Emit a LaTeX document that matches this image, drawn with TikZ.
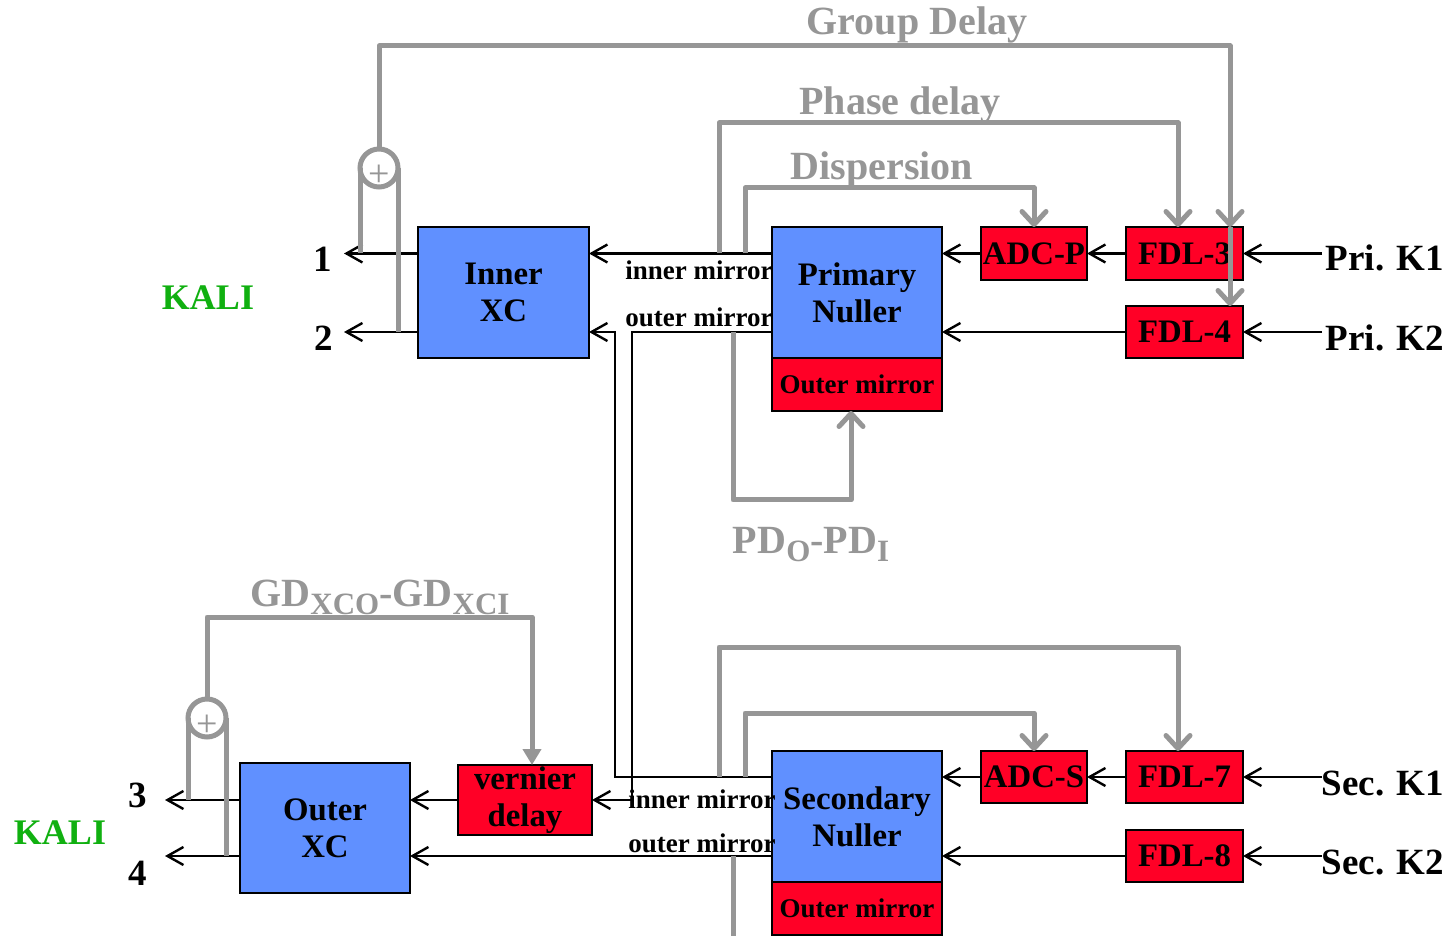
\documentclass[tikz,border=0pt]{standalone}
\usepackage{fontspec}
\setmainfont{Liberation Serif}
\usetikzlibrary{arrows.meta,calc}
\definecolor{boxblue}{RGB}{96,144,255}
\definecolor{boxred}{RGB}{255,0,38}
\definecolor{ctlgray}{RGB}{150,150,150}
\definecolor{kaligreen}{RGB}{16,176,16}
\newcommand\lsub[1]{\raisebox{-0.45ex}{\fontsize{15.5}{16}\selectfont #1}}
\begin{document}
\begin{tikzpicture}[x=0.5pt,y=-0.5pt,
  boxbase/.style={draw=black,line width=1.2pt,inner sep=0pt,outer sep=0pt,align=center,
    font=\fontsize{16.4}{18.5}\selectfont\bfseries},
  bluebox/.style={boxbase,fill=boxblue},
  redbox/.style={boxbase,fill=boxred},
  smallred/.style={boxbase,fill=boxred,font=\fontsize{13.5}{14}\selectfont\bfseries},
  barr/.style={draw=black,line width=1.2pt,-{Straight Barb[length=8pt,width=9pt]}},
  bline/.style={draw=black,line width=1.2pt},
  gline/.style={draw=ctlgray,line width=2.5pt,line join=round},
  garr/.style={gline,-{Straight Barb[length=6.5pt,width=12pt,round]}},
  gtri/.style={gline,-{Triangle[length=8pt,width=9pt]}},
  sumc/.style={circle,draw=ctlgray,line width=2.5pt,minimum size=19pt,inner sep=0pt,outer sep=0pt},
  plus/.style={text=ctlgray,font=\fontsize{19}{19}\selectfont,inner sep=0pt},
  glabel/.style={text=ctlgray,font=\fontsize{20}{22}\selectfont\bfseries,inner sep=0pt,anchor=base},
  blabel/.style={font=\fontsize{18.5}{20}\selectfont\bfseries,inner sep=0pt},
  mlabel/.style={font=\fontsize{13.5}{14}\selectfont\bfseries,inner sep=0pt,anchor=base west},
  kali/.style={text=kaligreen,font=\fontsize{18}{20}\selectfont\bfseries,inner sep=0pt}
]
\fill[white] (0,0) rectangle (1453,936);
\useasboundingbox (0,0) rectangle (1453,936);

% ---------- boxes ----------
\node[bluebox,minimum width=85.5pt,minimum height=65.5pt] (inxc) at (503.5,292.5) {Inner\\XC};
\node[bluebox,minimum width=85pt,minimum height=65.5pt] (prim) at (857,292.5) {Primary\\Nuller};
\node[smallred,minimum width=85pt,minimum height=26.5pt] (primom) at (857,384.5) {Outer mirror};
\node[redbox,minimum width=53pt,minimum height=26.5pt] (adcp) at (1034,253.5) {ADC-P};
\node[redbox,minimum width=58.5pt,minimum height=26.5pt] (fdl3) at (1184.5,253.5) {FDL-3};
\node[redbox,minimum width=58.5pt,minimum height=26pt] (fdl4) at (1184.5,332) {FDL-4};

\node[bluebox,minimum width=85pt,minimum height=65.5pt] (sec) at (857,816.5) {Secondary\\Nuller};
\node[smallred,minimum width=85pt,minimum height=26.5pt] (secom) at (857,908.5) {Outer mirror};
\node[redbox,minimum width=53pt,minimum height=26pt] (adcs) at (1034,777) {ADC-S};
\node[redbox,minimum width=58.5pt,minimum height=26pt] (fdl7) at (1184.5,777) {FDL-7};
\node[redbox,minimum width=58.5pt,minimum height=26pt] (fdl8) at (1184.5,856) {FDL-8};

\node[bluebox,minimum width=85pt,minimum height=65pt] (outxc) at (325,828) {Outer\\XC};
\node[redbox,minimum width=67pt,minimum height=35pt] (vern) at (525,800) {vernier\\delay};

% ---------- text labels ----------
\node[blabel] (pk1) at (1385,257.5) {Pri. K1};
\node[blabel] (pk2) at (1385,337.5) {Pri. K2};
\node[blabel] (sk1) at (1383,783.5) {Sec. K1};
\node[blabel] (sk2) at (1383,862.5) {Sec. K2};
\node[blabel] (n1) at (323,259.5) {1};
\node[blabel] (n2) at (324,338) {2};
\node[blabel] (n3) at (138,795) {3};
\node[blabel] (n4) at (138,873.5) {4};
\node[kali] (kali1) at (208,297.5) {KALI};
\node[kali] (kali2) at (60,833) {KALI};

\node[mlabel] (pim) at (625,280) {inner mirror};
\node[mlabel] (pom) at (625,327) {outer mirror};
\node[mlabel] (sim) at (628,808) {inner mirror};
\node[mlabel] (som) at (628,852) {outer mirror};

\node[glabel] (lgd) at (917,35) {Group Delay};
\node[glabel] (lph) at (900,115) {Phase delay};
\node[glabel] (ldi) at (882,180) {Dispersion};
\node[glabel] (lpd) at (811,553) {PD\lsub{O}-PD\lsub{I}};
\node[glabel] (lgx) at (380,606) {GD\lsub{XCO}-GD\lsub{XCI}};

% ---------- coordinates ----------
\coordinate (ink1) at (1322,253.5);
\coordinate (ink2) at (1322,332);
\coordinate (insk1) at (1322,777);
\coordinate (insk2) at (1322,856);
\coordinate (out1) at (344,253.5);
\coordinate (out2) at (344,332);
\coordinate (out3) at (165,800);
\coordinate (out4) at (165,856);
\coordinate (j1) at (615,332);
\coordinate (j2) at (632,800);

% ---------- black signal paths ----------
\draw[barr] (ink1) -- (fdl3);
\draw[barr] (fdl3) -- (adcp);
\draw[barr] (adcp) -- (prim.east |- adcp);
\draw[barr] (prim.west |- adcp) -- (inxc.east |- adcp);
\draw[barr] (inxc.west |- adcp) -- (out1);
\draw[barr] (ink2) -- (fdl4);
\draw[barr] (fdl4) -- (prim.east |- fdl4);
\draw[barr] (inxc.west |- fdl4) -- (out2);
\draw[barr] (prim.west |- fdl4) -| (j2) -- (vern.east);
\draw[barr] (sec.west |- adcs) -| (j1) -- (inxc.east |- fdl4);

\draw[barr] (insk1) -- (fdl7);
\draw[barr] (fdl7) -- (adcs);
\draw[barr] (adcs) -- (sec.east |- adcs);
\draw[barr] (insk2) -- (fdl8);
\draw[barr] (fdl8) -- (sec.east |- fdl8);
\draw[barr] (sec.west |- fdl8) -- (outxc.east |- fdl8);
\draw[barr] (vern) -- (outxc.east |- vern);
\draw[barr] (outxc.west |- vern) -- (out3);
\draw[barr] (outxc.west |- fdl8) -- (out4);

% ---------- gray control paths ----------
\node[sumc] (sum1) at (379,168) {};
\node[plus,yshift=-4pt] (p1) at (sum1.center) {+};
\node[sumc] (sum2) at (207,718) {};
\node[plus,yshift=-4pt] (p2) at (sum2.center) {+};

\coordinate (gdc) at (1230,46);
\draw[gline] (sum1.west) -- (sum1.west |- adcp);
\draw[gline] (sum1.east) -- (sum1.east |- fdl4);
\draw[garr] (sum1.north) |- (gdc) -- (gdc |- fdl3.north);
\draw[garr] (gdc |- fdl3.north) -- (gdc |- fdl4.north);

\draw[garr] (719,253.5) -- (719,123) -| ($(fdl3.north)+(-6.5,0)$);
\draw[garr] (745,253.5) -- (745,188) -| (adcp.north);
\draw[garr] (733,332) -- (733,500) -| ($(primom.south)+(-6,0)$);

\draw[garr] (719,777) -- (719,647) -| ($(fdl7.north)+(-6.5,0)$);
\draw[garr] (745,777) -- (745,713) -| (adcs.north);
\draw[gline] (733,856) -- (733,936);

\draw[gline] (sum2.west) -- (sum2.west |- vern);
\draw[gline] (sum2.east) -- (sum2.east |- fdl8);
\draw[gtri] (sum2.north) -- (207,617) -| ($(vern.north)+(7,0)$);
\end{tikzpicture}
\end{document}
